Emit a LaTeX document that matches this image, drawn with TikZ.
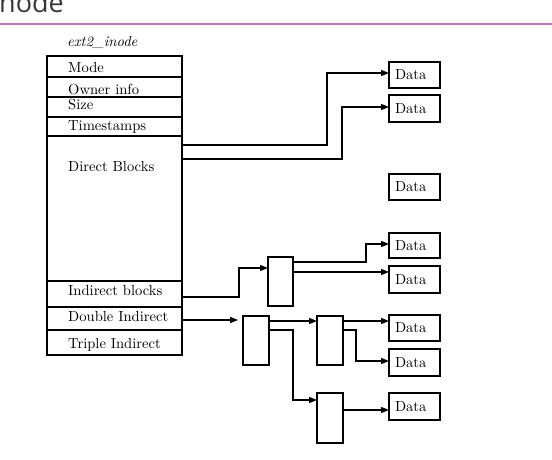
\documentclass[tikz,border=0pt]{standalone}
\usepackage{fontspec}
\newfontfamily\titlefont{Open Sans}
\newfontfamily\cmten{lmroman10-regular}[Extension=.otf, ItalicFont=lmroman10-italic]
\usetikzlibrary{arrows.meta}
\definecolor{rulepurple}{RGB}{195,115,195}
\definecolor{titlegray}{RGB}{55,55,55}
\tikzset{
  row/.style={draw, line width=1.3pt, minimum width=135pt, inner sep=0pt, outer sep=0pt},
  lbl/.style={anchor=base west, inner sep=0pt, font=\cmten\fontsize{14.6}{17}\selectfont},
  databox/.style={draw, line width=1.3pt, minimum width=51pt, minimum height=26pt, text width=39pt, align=left, inner sep=6pt, outer sep=0pt, font=\cmten\fontsize{14.6}{17}\selectfont},
  ptrbox/.style={draw, line width=1.3pt, minimum width=26pt, inner sep=0pt, outer sep=0pt},
  arr/.style={line width=1.3pt, -{Triangle[length=8pt,width=6pt]}},
}
\begin{document}
\begin{tikzpicture}[x=1pt,y=-1pt]
\useasboundingbox (0,0) rectangle (552,460);
% title and rule
\node[anchor=base west, inner sep=0pt, text=titlegray, font=\titlefont\fontsize{27}{30}\selectfont] (title) at (-1,13) {node};
\draw[rulepurple, line width=1.6pt] (0,24) -- (552,24);
% inode rows
\node[row, minimum height=21pt] (mode) at (114.5,66.5) {};
\node[row, minimum height=20pt] (owner) at (114.5,87) {};
\node[row, minimum height=20pt] (size) at (114.5,107) {};
\node[row, minimum height=19pt] (time) at (114.5,126.5) {};
\node[row, minimum height=145pt] (direct) at (114.5,208.5) {};
\node[row, minimum height=26pt] (ind) at (114.5,294) {};
\node[row, minimum height=23pt] (dbl) at (114.5,318.5) {};
\node[row, minimum height=25pt] (tpl) at (114.5,342.5) {};
% labels
\node[lbl, font=\cmten\fontsize{14.6}{17}\selectfont\itshape] (lhead) at (67,47) {ext2\_inode};
\node[lbl] (lmode) at (68,73) {Mode};
\node[lbl] (lowner) at (68,95) {Owner info};
\node[lbl] (lsize) at (68,110) {Size};
\node[lbl] (ltime) at (68,131) {Timestamps};
\node[lbl] (ldirect) at (68,171) {Direct Blocks};
\node[lbl] (lind) at (68,295) {Indirect blocks};
\node[lbl] (ldbl) at (68,321) {Double Indirect};
\node[lbl] (ltpl) at (68,348) {Triple Indirect};
% data boxes
\node[databox] (d1) at (414.5,75) {Data};
\node[databox, minimum height=27pt] (d2) at (414.5,108.5) {Data};
\node[databox] (d3) at (414.5,187) {Data};
\node[databox, minimum height=25pt] (d4) at (414.5,245.5) {Data};
\node[databox, minimum height=27pt] (d5) at (414.5,279.5) {Data};
\node[databox] (d6) at (414.5,328) {Data};
\node[databox, minimum height=27pt] (d7) at (414.5,362.5) {Data};
\node[databox, minimum height=27pt] (d8) at (414.5,406.5) {Data};
% pointer boxes
\node[ptrbox, minimum width=25pt, minimum height=49pt] (A) at (280.5,281.5) {};
\node[ptrbox, minimum height=49pt] (B) at (256,340.5) {};
\node[ptrbox, minimum height=49pt] (C) at (330,340.5) {};
\node[ptrbox, minimum height=50pt] (D) at (330,418) {};
% connectors
\draw[arr] ([yshift=63.5pt]direct.east) -| (327,73) -- ([yshift=2pt]d1.west);
\draw[arr] ([yshift=49.5pt]direct.east) -| (342,107) -- ([yshift=1.5pt]d2.west);
\draw[arr] ([yshift=-3pt]ind.east) -| (239,268) -- ([yshift=13.5pt]A.west);
\draw[arr] ([yshift=19.5pt]A.east) -| (366,244) -- ([yshift=1.5pt]d4.west);
\draw[arr] ([yshift=9.5pt]A.east) -- ([yshift=7.5pt]d5.west);
\draw[arr, shorten >=5pt] ([yshift=-1.5pt]dbl.east) -- ([yshift=20.5pt]B.west);
\draw[arr] ([yshift=19.5pt]B.east) -- ([yshift=19.5pt]C.west);
\draw[arr] ([yshift=10.5pt]B.east) -| (293,400) -- ([yshift=18pt]D.west);
\draw[arr] ([yshift=19.5pt]C.east) -- ([yshift=7pt]d6.west);
\draw[arr] ([yshift=10.5pt]C.east) -| (356,361) -- ([yshift=1.5pt]d7.west);
\draw[arr] ([yshift=8pt]D.east) -- ([yshift=-3.5pt]d8.west);
\end{tikzpicture}
\end{document}
